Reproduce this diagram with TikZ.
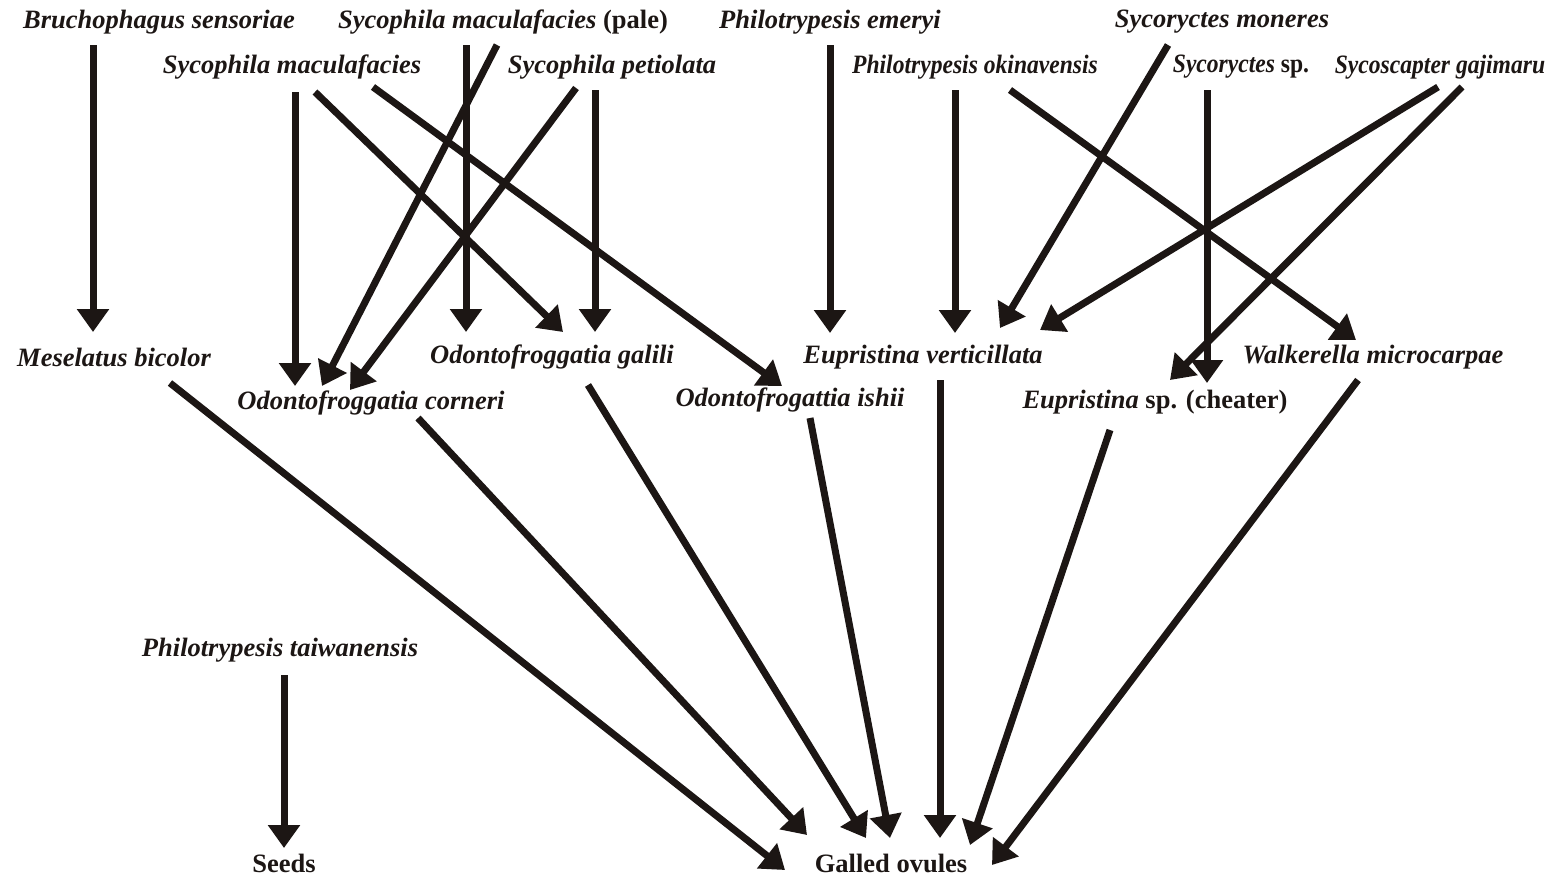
\documentclass[tikz,border=0pt]{standalone}
\usepackage{fontspec}
\setmainfont{Liberation Serif}
\newfontfamily\condserif{Liberation Serif}[FakeStretch=0.89]
\usetikzlibrary{arrows.meta}
\definecolor{ink}{RGB}{28,22,20}
\begin{document}
\begin{tikzpicture}[x=1pt,y=-1pt,
  lbl/.style={inner sep=0pt,text=ink,font=\fontsize{26.5}{30}\selectfont\bfseries\itshape},
  lblc/.style={inner sep=0pt,text=ink,font=\condserif\fontsize{26.5}{30}\selectfont\bfseries\itshape},
  plain/.style={inner sep=0pt,text=ink,font=\fontsize{26.5}{30}\selectfont\bfseries},
  arr/.style={draw=ink,line width=7pt,-{Triangle[length=23pt,width=31pt]}}]
\useasboundingbox[fill=white] (0,0) rectangle (1552,878);
% top row
\node[lbl] (bruch) at (159,22) {Bruchophagus sensoriae};
\node[lbl] (pale) at (503,22) {Sycophila maculafacies \upshape(pale)};
\node[lbl] (emeryi) at (830,22) {Philotrypesis emeryi};
\node[lbl] (moneres) at (1222,22) {Sycoryctes moneres};
% second row
\node[lbl] (smac) at (292,67) {Sycophila maculafacies};
\node[lbl] (petio) at (612,67) {Sycophila petiolata};
\node[lblc] (okin) at (975,67) {Philotrypesis okinavensis};
\node[lblc] (sycsp) at (1241,67) {Sycoryctes \upshape sp.};
\node[lblc] (sycosc) at (1440,67) {Sycoscapter gajimaru};
% middle rows
\node[lbl] (mesel) at (114,357) {Meselatus bicolor};
\node[lbl] (galili) at (552,357) {Odontofroggatia galili};
\node[lbl] (vert) at (923,357) {Eupristina verticillata};
\node[lbl] (walk) at (1373,357) {Walkerella microcarpae};
\node[lbl] (corneri) at (371,403) {Odontofroggatia corneri};
\node[lbl] (ishii) at (790,400) {Odontofrogattia ishii};
\node[lbl] (eusp) at (1155,402) {Eupristina \upshape sp. (cheater)};
% lower
\node[lbl] (taiw) at (280,650) {Philotrypesis taiwanensis};
\node[plain] (seeds) at (284,863) {Seeds};
\node[plain] (galled) at (891,863) {Galled ovules};
% arrows from top rows
\draw[arr] ([shift={(-66,23)}]bruch.center) -- ([shift={(-21,-25)}]mesel.center);
\draw[arr] ([shift={(-37,23)}]pale.center) -- ([shift={(-86,-25)}]galili.center);
\draw[arr] ([shift={(-6,23)}]pale.center) -- ([shift={(-49,-17)}]corneri.center);
\draw[arr] ([shift={(3,25)}]smac.center) -- ([shift={(-76,-17)}]corneri.center);
\draw[arr] ([shift={(23,25)}]smac.center) -- ([shift={(11,-25)}]galili.center);
\draw[arr] ([shift={(81,20)}]smac.center) -- ([shift={(-8,-14)}]ishii.center);
\draw[arr] ([shift={(-36,21)}]petio.center) -- ([shift={(-21,-13)}]corneri.center);
\draw[arr] ([shift={(-17,23)}]petio.center) -- ([shift={(43,-25)}]galili.center);
\draw[arr] ([shift={(0,23)}]emeryi.center) -- ([shift={(-93,-24)}]vert.center);
\draw[arr] ([shift={(-20,23)}]okin.center) -- ([shift={(32,-24)}]vert.center);
\draw[arr] ([shift={(35,23)}]okin.center) -- ([shift={(-17,-17)}]walk.center);
\draw[arr] ([shift={(-54,23)}]moneres.center) -- ([shift={(77,-29)}]vert.center);
\draw[arr] ([shift={(-34,23)}]sycsp.center) -- ([shift={(52,-19)}]eusp.center);
\draw[arr] ([shift={(-2,20)}]sycosc.center) -- ([shift={(117,-27)}]vert.center);
\draw[arr] ([shift={(22,20)}]sycosc.center) -- ([shift={(15,-22)}]eusp.center);
% arrows to galled ovules
\draw[arr] ([shift={(56,26)}]mesel.center) -- ([shift={(-106,7)}]galled.center);
\draw[arr] ([shift={(47,15)}]corneri.center) -- ([shift={(-84,-28)}]galled.center);
\draw[arr] ([shift={(36,28)}]galili.center) -- ([shift={(-25,-25)}]galled.center);
\draw[arr] ([shift={(20,18)}]ishii.center) -- ([shift={(-1,-25)}]galled.center);
\draw[arr] ([shift={(17,23)}]vert.center) -- ([shift={(49,-25)}]galled.center);
\draw[arr] ([shift={(-45,28)}]eusp.center) -- ([shift={(79,-18)}]galled.center);
\draw[arr] ([shift={(-15,23)}]walk.center) -- ([shift={(101,2)}]galled.center);
\draw[arr] ([shift={(4,25)}]taiw.center) -- ([shift={(0,-15)}]seeds.center);
\end{tikzpicture}
\end{document}
